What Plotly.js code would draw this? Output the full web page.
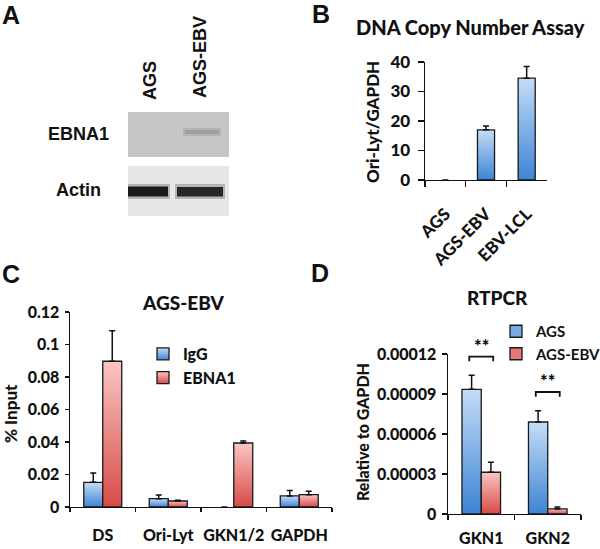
<!DOCTYPE html>
<html><head><meta charset="utf-8">
<script src="https://cdn.plot.ly/plotly-3.0.1.min.js"></script>
<style>html,body{margin:0;padding:0;background:#fff;overflow:hidden}</style>
</head><body><div id="chart" style="width:600px;height:549px"></div>
<script>
// ---------- Panel A (western blot) ----------
const blotLanes = ['AGS', 'AGS-EBV'];
const blotRows = ['EBNA1', 'Actin'];
// ---------- Panel B ----------
const bCategories = ['AGS', 'AGS-EBV', 'EBV-LCL'];
const bValues = [0, 17, 34.5];
const bErrors = [0, 1.3, 4];
// ---------- Panel C ----------
const cCategories = ['DS', 'Ori-Lyt', 'GKN1/2', 'GAPDH'];
const cIgG = [0.0152, 0.0051, 0, 0.0068];
const cIgGErr = [0.0058, 0.0023, 0, 0.0033];
const cEBNA1 = [0.0897, 0.0037, 0.0394, 0.0076];
const cEBNA1Err = [0.0188, 0.0005, 0.0012, 0.0021];
// ---------- Panel D ----------
const dCategories = ['GKN1', 'GKN2'];
const dAGS = [0.0000935, 0.000069];
const dAGSErr = [0.0000105, 0.0000085];
const dAGSEBV = [0.0000313, 0.0000038];
const dAGSEBVErr = [0.0000075, 0.0000014];
const dSignificance = ['**', '**'];
const dTickVals = [0, 0.00003, 0.00006, 0.00009, 0.00012];
const dTickText = ['0', '0.00003', '0.00006', '0.00009', '0.00012'];

const W = 600, H = 549;
const px = x => x / W;
const py = y => 1 - y / H;
const CF = 'Lato, "Open Sans", sans-serif';
const AF = '"Liberation Sans", Arial, sans-serif';
const BOLD = 900;
const BLUE = 'rgb(120, 170, 230)';
const RED = 'rgb(230, 120, 115)';
const zeros = a => a.map(() => 0);
const lineW = a => a.map(v => (v === 0 ? 0 : 1.3));

const errStyle = (arr) => ({type: 'data', symmetric: false, array: arr, arrayminus: zeros(arr),
  color: '#111', thickness: 1.5, width: 3});
const barLine = vals => ({color: '#1a1a1a', width: lineW(vals)});

const data = [
  {type: 'bar', x: bCategories, y: bValues, xaxis: 'x2', yaxis: 'y2', width: 0.42,
   marker: {color: BLUE, line: barLine(bValues)}, error_y: errStyle(bErrors), showlegend: false},
  {type: 'bar', name: 'IgG', x: cCategories, y: cIgG, xaxis: 'x3', yaxis: 'y3',
   marker: {color: BLUE, line: barLine(cIgG)}, error_y: errStyle(cIgGErr), legend: 'legend'},
  {type: 'bar', name: 'EBNA1', x: cCategories, y: cEBNA1, xaxis: 'x3', yaxis: 'y3',
   marker: {color: RED, line: barLine(cEBNA1)}, error_y: errStyle(cEBNA1Err), legend: 'legend'},
  {type: 'bar', name: 'AGS', x: dCategories, y: dAGS, xaxis: 'x4', yaxis: 'y4',
   marker: {color: BLUE, line: barLine(dAGS)}, error_y: errStyle(dAGSErr), legend: 'legend2'},
  {type: 'bar', name: 'AGS-EBV', x: dCategories, y: dAGSEBV, xaxis: 'x4', yaxis: 'y4',
   marker: {color: RED, line: barLine(dAGSEBV)}, error_y: errStyle(dAGSEBVErr), legend: 'legend2'}
];

const axLine = {showline: true, linecolor: '#111', linewidth: 1.4, ticks: 'outside', tickcolor: '#111',
  tickwidth: 1.3, showgrid: false, zeroline: false, fixedrange: true, automargin: false};
const tickF = s => ({family: CF, size: s, color: '#111', weight: BOLD});

const layout = {
  width: W, height: H, autosize: false,
  margin: {l: 0, r: 0, t: 0, b: 0, pad: 0, autoexpand: false},
  paper_bgcolor: '#fff', plot_bgcolor: 'rgba(0,0,0,0)',
  barmode: 'group', bargap: 0.42, bargroupgap: 0,
  xaxis: {visible: false, domain: [0, 0.01]}, yaxis: {visible: false, domain: [0, 0.01]},
  xaxis2: Object.assign({}, axLine, {domain: [px(425), px(547)], anchor: 'y2', type: 'category',
    tickson: 'boundaries', ticklen: 6, tickangle: -45, tickfont: tickF(17), ticklabelstandoff: 16,
    range: [-0.5, 2.5]}),
  yaxis2: Object.assign({}, axLine, {domain: [py(180), py(62)], anchor: 'x2', range: [0, 40], dtick: 10,
    ticklen: 6, tickfont: tickF(17), ticklabelstandoff: 4}),
  xaxis3: Object.assign({}, axLine, {domain: [px(70), px(332)], anchor: 'y3', type: 'category',
    tickson: 'boundaries', ticklen: 4, tickangle: 0, tickfont: tickF(16), ticklabelstandoff: 13,
    range: [-0.5, 3.5]}),
  yaxis3: Object.assign({}, axLine, {domain: [py(507), py(312)], anchor: 'x3', range: [0, 0.12], dtick: 0.02,
    ticklen: 4, tickfont: tickF(16), ticklabelstandoff: 2}),
  xaxis4: Object.assign({}, axLine, {domain: [px(448), px(581)], anchor: 'y4', type: 'category',
    tickson: 'boundaries', ticklen: 5, tickangle: 0, tickfont: tickF(16), ticklabelstandoff: 9,
    range: [-0.5, 1.5]}),
  yaxis4: Object.assign({}, axLine, {domain: [py(514), py(354)], anchor: 'x4', range: [0, 0.00012],
    tickmode: 'array', tickvals: dTickVals, ticktext: dTickText, ticklen: 5, tickfont: tickF(16),
    ticklabelstandoff: 2}),
  legend: {x: px(143), y: py(337), xanchor: 'left', yanchor: 'top', bgcolor: 'rgba(0,0,0,0)',
    font: {family: CF, size: 16, color: '#111', weight: BOLD}, itemclick: false},
  legend2: {x: px(496), y: py(315), xanchor: 'left', yanchor: 'top', bgcolor: 'rgba(0,0,0,0)',
    font: {family: CF, size: 15, color: '#111', weight: 'bold'}, itemclick: false},
  showlegend: true,
  shapes: [],
  annotations: []
};

const ann = (text, x, y, size, family, extra, weight) => Object.assign({text, x: px(x), y: py(y), xref: 'paper', yref: 'paper',
  showarrow: false, xanchor: 'center', yanchor: 'middle',
  font: {family, size, color: '#111', weight: weight || 'bold'}}, extra || {});

// panel letters
[['A', 11, 15], ['B', 321, 14], ['C', 11, 274], ['D', 320, 273]].forEach(([t, x, y]) =>
  layout.annotations.push(ann(t, x, y, 25, AF)));
// panel A labels
layout.annotations.push(ann(blotRows[0], 79, 134, 18, AF));
layout.annotations.push(ann(blotRows[1], 79, 190, 18, AF));
layout.annotations.push(ann(blotLanes[0], 150, 81, 18, AF, {textangle: -90}));
layout.annotations.push(ann(blotLanes[1], 200, 57, 18, AF, {textangle: -90}));
// chart titles
layout.annotations.push(ann('DNA Copy Number Assay', 470, 27, 20, CF, null, BOLD));
layout.annotations.push(ann('AGS-EBV', 183, 302, 19, CF, null, BOLD));
layout.annotations.push(ann('RTPCR', 497, 297, 19, CF, null, BOLD));
// y titles
layout.annotations.push(ann('Ori-Lyt/GAPDH', 372, 122, 17, CF, {textangle: -90}, BOLD));
layout.annotations.push(ann('% Input', 10, 414, 17, CF, {textangle: -90}, BOLD));
layout.annotations.push(ann('Relative to GAPDH', 362, 432, 16, CF, {textangle: -90}, BOLD));

// significance brackets in D, placed from the data
const brOff = 0.0000140, brLeg = 0.0000035, brHalf = 0.18;
dCategories.forEach((c, i) => {
  const top = Math.max(dAGS[i] + dAGSErr[i], dAGSEBV[i] + dAGSEBVErr[i]);
  const yb = top + brOff;
  layout.shapes.push({type: 'path', xref: 'x4', yref: 'y4',
    path: `M ${i - brHalf},${yb - brLeg} L ${i - brHalf},${yb} L ${i + brHalf},${yb} L ${i + brHalf},${yb - brLeg}`,
    line: {color: '#111', width: 1.8}});
  layout.annotations.push({text: dSignificance[i], x: i, y: yb, xref: 'x4', yref: 'y4', showarrow: false,
    xanchor: 'center', yanchor: 'bottom', yshift: -2, font: {family: CF, size: 18, color: '#111', weight: BOLD}});
});

// panel A blot drawing (membranes + bands) in paper space
const rect = (x0, y0, x1, y1, fill, opacity) => ({type: 'rect', xref: 'paper', yref: 'paper', layer: 'below',
  x0: px(x0), x1: px(x1), y0: py(y1), y1: py(y0), fillcolor: fill, opacity: opacity == null ? 1 : opacity,
  line: {width: 0}});
layout.shapes.push(rect(128, 112, 229, 157, '#c6c6c6'));
layout.shapes.push(rect(128, 166, 229, 216, '#e7e7e7'));
// faint EBNA1 band in AGS-EBV lane
layout.shapes.push(rect(183, 128, 221, 136, '#a9a9a9', 0.6));
layout.shapes.push(rect(185, 130, 219, 134, '#989898', 0.8));
// actin bands
layout.shapes.push(rect(128, 184, 170, 199, '#777', 0.45));
layout.shapes.push(rect(128, 186.5, 168, 196.5, '#1b1b1b'));
layout.shapes.push(rect(175, 184, 225, 199, '#777', 0.45));
layout.shapes.push(rect(177, 187, 223, 196.5, '#262626'));

Plotly.newPlot('chart', data, layout, {staticPlot: true}).then(gd => {
  const ns = 'http://www.w3.org/2000/svg';
  const svg = gd.querySelector('svg.main-svg');
  let defs = svg.querySelector('defs');
  if (!defs) { defs = document.createElementNS(ns, 'defs'); svg.insertBefore(defs, svg.firstChild); }
  const grad = (id, c1, c2) => {
    const g = document.createElementNS(ns, 'linearGradient');
    g.setAttribute('id', id);
    g.setAttribute('x1', '0'); g.setAttribute('y1', '0'); g.setAttribute('x2', '0'); g.setAttribute('y2', '1');
    [[0, c1], [1, c2]].forEach(([o, c]) => {
      const s = document.createElementNS(ns, 'stop');
      s.setAttribute('offset', o); s.setAttribute('stop-color', c); g.appendChild(s);
    });
    defs.appendChild(g);
  };
  grad('gBlue', '#c4ddf8', '#3d84d3');
  grad('gRed', '#f9c6c3', '#d84a46');
  gd.querySelectorAll('.barlayer path, .legend path').forEach(p => {
    const f = p.style.fill;
    if (f === BLUE) p.style.fill = 'url(#gBlue)';
    else if (f === RED) p.style.fill = 'url(#gRed)';
  });
});
</script></body></html>
